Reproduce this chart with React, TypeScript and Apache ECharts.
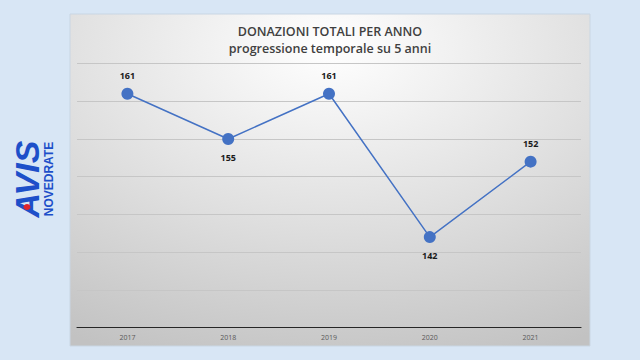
import React, { useEffect, useRef } from "react";
import * as echarts from "echarts";

const years = ["2017", "2018", "2019", "2020", "2021"];
const donations = [161, 155, 161, 142, 152];
const labelBelow = [false, true, false, true, false];
const titleText = "DONAZIONI TOTALI PER ANNO";
const subtitleText = "progressione temporale su 5 anni";

export default function App() {
  const ref = useRef<HTMLDivElement>(null);
  useEffect(() => {
    if (!ref.current) return;
    const chart = echarts.init(ref.current, null, { renderer: "svg" });
    const font = "'Open Sans', 'Liberation Sans', sans-serif";
    chart.setOption({
      animation: false,
      backgroundColor: "#d8e6f5",
      graphic: [
        {
          type: "rect",
          z: -10,
          shape: { x: 70, y: 14, width: 520, height: 332 },
          style: {
            fill: new echarts.graphic.RadialGradient(0.5, 0.1, 1.0, [
              { offset: 0, color: "#ffffff" },
              { offset: 0.55, color: "#dedede" },
              { offset: 1, color: "#c2c2c2" },
            ]),
            stroke: "#c9d6e3",
            lineWidth: 1,
          },
        },
        {
          type: "text",
          x: 330,
          y: 31,
          style: {
            text: titleText,
            font: `600 12.5px ${font}`,
            fill: "#404040",
            align: "center",
            verticalAlign: "middle",
          },
        },
        {
          type: "text",
          x: 330,
          y: 48,
          style: {
            text: subtitleText,
            font: `600 12.5px ${font}`,
            fill: "#404040",
            align: "center",
            verticalAlign: "middle",
          },
        },
        {
          type: "text",
          x: 27,
          y: 179,
          rotation: Math.PI / 2,
          style: {
            text: "AVIS",
            font: `italic 900 34px 'Liberation Sans', sans-serif`,
            fill: "#1d4fc9",
            align: "center",
            verticalAlign: "middle",
          },
        },
        {
          type: "ellipse",
          shape: { cx: 27, cy: 207, rx: 3.5, ry: 3 },
          style: { fill: "#e0242c" },
        },
        {
          type: "text",
          x: 49,
          y: 179,
          rotation: Math.PI / 2,
          style: {
            text: "NOVEDRATE",
            font: `bold 12px 'Liberation Sans', sans-serif`,
            fill: "#1d4fc9",
            align: "center",
            verticalAlign: "middle",
          },
        },
      ],
      grid: { left: 77, top: 63.6, width: 504, height: 264, containLabel: false },
      xAxis: {
        type: "category",
        data: years,
        boundaryGap: true,
        axisLine: { lineStyle: { color: "#262626", width: 1.2 } },
        axisTick: { show: false },
        axisLabel: { color: "#595959", fontSize: 7, fontFamily: font, margin: 6 },
      },
      yAxis: {
        type: "value",
        min: 130,
        max: 165,
        interval: 5,
        axisLabel: { show: false },
        axisLine: { show: false },
        axisTick: { show: false },
        splitLine: { lineStyle: { color: "#c6c6c6", width: 1 } },
      },
      series: [
        {
          type: "line",
          data: donations.map((v, i) => ({
            value: v,
            label: { position: labelBelow[i] ? "bottom" : "top" },
          })),
          symbol: "circle",
          symbolSize: 12,
          itemStyle: { color: "#4472c4" },
          lineStyle: { color: "#4472c4", width: 1.5 },
          label: {
            show: true,
            fontSize: 9,
            fontWeight: "bold",
            color: "#1a1a1a",
            fontFamily: font,
            distance: 8,
          },
        },
      ],
    });
    return () => chart.dispose();
  }, []);
  return (
    <div
      ref={ref}
      style={{ position: "absolute", left: 0, top: 0, width: 640, height: 360 }}
    />
  );
}
